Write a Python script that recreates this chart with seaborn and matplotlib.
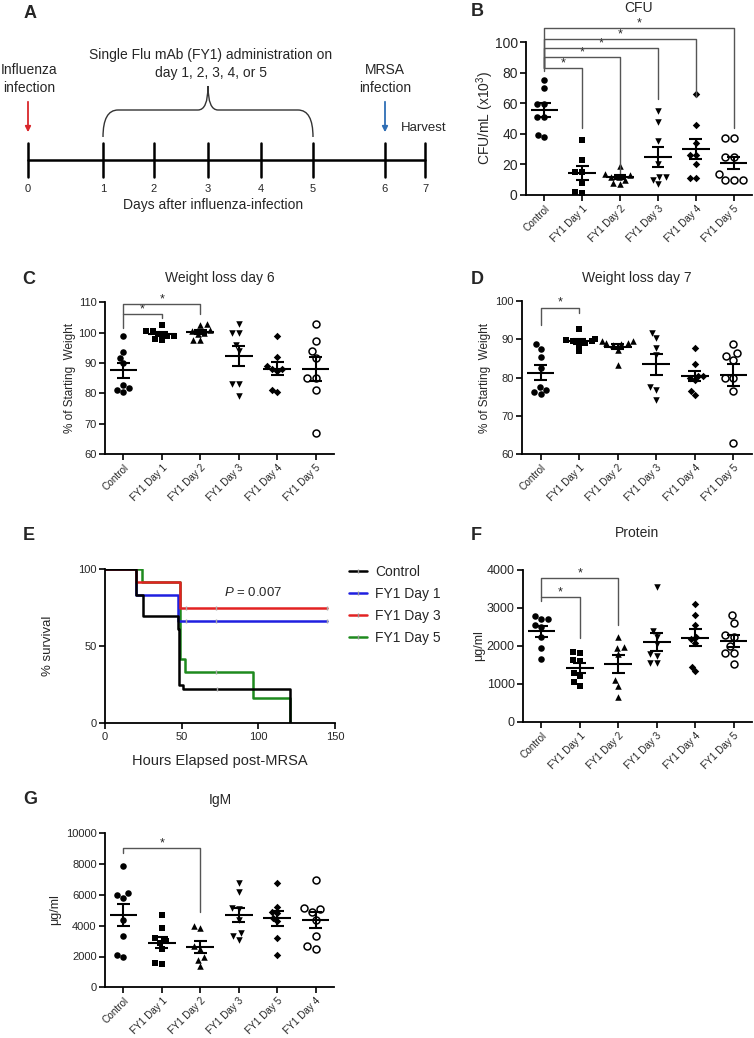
import warnings
warnings.filterwarnings("ignore")
import numpy as np
import matplotlib
matplotlib.use("Agg")
import matplotlib.pyplot as plt
import seaborn as sns
from matplotlib.path import Path
from matplotlib.patches import PathPatch
from matplotlib.lines import Line2D

# ---------------- data ----------------
cats = ["Control", "FY1 Day 1", "FY1 Day 2", "FY1 Day 3", "FY1 Day 4", "FY1 Day 5"]
g_cats = ["Control", "FY1 Day 1", "FY1 Day 2", "FY1 Day 3", "FY1 Day 5", "FY1 Day 4"]

cfu_control = [75, 70, 59.5, 59.5, 51, 51, 38, 39]
cfu_day1 = [36, 23, 15, 15, 8, 1, 2]
cfu_day2 = [19, 14, 13, 12, 12, 10, 8, 7]
cfu_day3 = [55, 48, 35, 20, 12, 12, 10, 7]
cfu_day4 = [66, 46, 34, 26, 26, 20, 11, 11]
cfu_day5 = [37, 37, 25, 25, 14, 10, 10, 10]

wl6_control = [99, 93.7, 91.8, 90, 82.7, 80.5, 81.6, 81]
wl6_day1 = [102.5, 100.5, 100.5, 99.5, 99, 99, 97.5, 97.8]
wl6_day2 = [102.5, 103, 101, 100.5, 100, 99.5, 97.5, 97.5]
wl6_day3 = [103, 100, 100, 96, 94, 83, 83, 79]
wl6_day4 = [99, 92, 89, 88, 88, 87.5, 80.5, 81]
wl6_day5 = [102.7, 97.3, 94, 91.5, 85, 85, 81, 67]

wl7_control = [87.5, 88.7, 85.3, 82.4, 77.5, 75.7, 76.8, 76.2]
wl7_day1 = [92.8, 90, 89.5, 89.5, 89, 89.7, 88.5, 86.8]
wl7_day2 = [89.5, 89.5, 89, 89, 88.8, 88.5, 87.3, 83.2]
wl7_day3 = [90.3, 91.6, 87.6, 85.9, 76.8, 77.6, 74.2]
wl7_day4 = [87.6, 83.6, 80.5, 80.5, 80, 79.3, 75.5, 76.5]
wl7_day5 = [88.8, 86.5, 85.5, 84.5, 80, 80, 76.5, 63]

prot_control = [2780, 2720, 2700, 2550, 2500, 2230, 1950, 1670]
prot_day1 = [1850, 1820, 1620, 1600, 1300, 1200, 1050, 950]
prot_day2 = [2250, 1980, 1960, 1790, 1100, 950, 650]
prot_day3 = [3540, 2400, 2250, 2050, 1800, 1750, 1550, 1550]
prot_day4 = [3100, 2820, 2550, 2230, 2180, 2090, 1460, 1350]
prot_day5 = [2820, 2600, 2290, 2230, 2010, 1810, 1810, 1520]

igm_control = [7850, 6100, 6000, 5800, 4400, 3300, 2100, 2000]
igm_day1 = [4700, 3850, 3200, 3000, 2900, 2500, 1600, 1500]
igm_day2 = [4000, 3850, 2700, 2500, 2000, 1800, 1400]
igm_day3 = [6800, 6200, 5150, 5100, 4400, 3500, 3300, 3100]
igm_day5 = [6750, 5200, 4900, 4800, 4500, 4300, 3200, 2100]
igm_day4 = [6950, 5150, 5100, 4900, 4400, 3350, 2700, 2500]

# Kaplan-Meier (hours, % survival)
km_control_t = [0, 20.2, 24.5, 47.4, 48.4, 51, 120.5]
km_control_s = [100, 83.3, 69.4, 61.1, 25.0, 22.2, 0]
km_day1_t = [0, 20.2, 47.8, 144.5]
km_day1_s = [100, 83.3, 66.7, 66.7]
km_day3_t = [0, 20.2, 48.9, 144.5]
km_day3_s = [100, 91.7, 75.0, 75.0]
km_day5_t = [0, 24.3, 48.9, 52, 96.7, 120.5]
km_day5_s = [100, 91.7, 41.7, 33.3, 16.7, 0]
cens_control = [72.8]
cens_day1 = [52.6, 72.6, 144.5]
cens_day3 = [52.6, 72.6, 144.5]
cens_day5 = [72.6]

# significance brackets: (group i, group j, bar level, left end, right end)
br_cfu = [(0, 1, 83, 81, 44), (0, 2, 90, 83, 14), (0, 3, 96, 83, 63),
          (0, 4, 102, 83, 64), (0, 5, 109, 83, 44)]
br_wl6 = [(0, 1, 106, 101.5, 104.7), (0, 2, 109.3, 106, 106.1)]
br_wl7 = [(0, 1, 98.3, 93.7, 96.9)]
br_prot = [(0, 1, 3280, 3190, 2200), (0, 2, 3780, 3280, 2550)]
br_igm = [(0, 2, 9026, 8700, 4910)]

timeline_days = ["0", "1", "2", "3", "4", "5", "6", "7"]

# ---------------- style ----------------
sns.set_style("ticks")
plt.rcParams['font.family'] = ['Liberation Sans', 'DejaVu Sans']
plt.rcParams['mathtext.fontset'] = 'custom'
plt.rcParams['mathtext.rm'] = 'Liberation Sans'
plt.rcParams['mathtext.it'] = 'Liberation Sans:italic'

W, H = 754, 1038
fig = plt.figure(figsize=(W / 100, H / 100), dpi=100)
canvas = fig.add_axes([0, 0, 1, 1])
canvas.set_xlim(0, W)
canvas.set_ylim(H, 0)
canvas.axis('off')


def add_ax(l, t, r, b):
    ax = fig.add_axes([l / W, 1 - b / H, (r - l) / W, (b - t) / H])
    ax.patch.set_alpha(0)
    return ax


def style_ax(ax, ylabsize=8):
    for s in ['top', 'right']:
        ax.spines[s].set_visible(False)
    for s in ['left', 'bottom']:
        ax.spines[s].set_linewidth(1.3)
        ax.spines[s].set_color('black')
    ax.tick_params(direction='out', length=4, width=1.2, color='black', pad=2)
    ax.tick_params(axis='y', labelsize=ylabsize)


markers = ['o', 's', '^', 'v', 'D', 'o']


def dot_panel(ax, groups, labels, ylim, yticks, brackets, ylabsize=8):
    for i, vals in enumerate(groups):
        m = markers[i]
        is_open = (i == 5)
        sz = 3.8 if m == 'D' else (5.0 if is_open else 4.7)
        sns.swarmplot(x=[labels[i]] * len(vals), y=vals, order=labels, ax=ax,
                      marker=m, size=sz, color='white' if is_open else 'black',
                      edgecolor='black', linewidth=1.1 if is_open else 0,
                      warn_thresh=1, zorder=3)
        mean = np.mean(vals)
        sem = np.std(vals, ddof=1) / np.sqrt(len(vals))
        ax.hlines(mean, i - 0.36, i + 0.36, color='black', lw=1.5, zorder=5)
        ax.vlines(i, mean - sem, mean + sem, color='black', lw=1.5, zorder=5)
        ax.hlines([mean - sem, mean + sem], i - 0.17, i + 0.17, color='black', lw=1.5, zorder=5)
    for (i, j, yb, yl, yr) in brackets:
        ax.plot([i, i, j, j], [yl, yb, yb, yr], color='#555555', lw=1.0,
                clip_on=False, zorder=4)
        ax.annotate('*', xy=((i + j) / 2, yb), xytext=(0, 3.5), textcoords='offset points',
                    ha='center', va='center', fontsize=9, annotation_clip=False)
    ax.set_xlim(-0.48, 5.48)
    ax.set_ylim(*ylim)
    ax.set_yticks(yticks)
    ax.set_xticks(range(len(labels)))
    ax.set_xticklabels(labels, rotation=45, ha='right', rotation_mode='anchor', fontsize=7.2)
    ax.set_xlabel('')
    ax.set_ylabel('')
    style_ax(ax, ylabsize)


# ---------------- Panel A (diagram) ----------------
day_x = [28, 103, 154, 208, 261, 313, 385, 425]
line_y = 160
canvas.plot([day_x[0], day_x[-1]], [line_y, line_y], color='black', lw=1.8)
for xd, lab in zip(day_x, timeline_days):
    canvas.plot([xd, xd], [143, 177], color='black', lw=1.8)
    canvas.text(xd, 189, lab, ha='center', va='center', fontsize=8)
canvas.text(213, 205, "Days after influenza-infection", ha='center', va='center', fontsize=10)
canvas.text(29, 79, "Influenza\ninfection", ha='center', va='center', fontsize=10, linespacing=1.3)
canvas.text(385, 79, "MRSA\ninfection", ha='center', va='center', fontsize=10, linespacing=1.3)
canvas.text(401, 128, "Harvest", ha='left', va='center', fontsize=9.5)
canvas.text(211, 55, "Single Flu mAb (FY1) administration on", ha='center', va='center', fontsize=10)
canvas.text(211, 73, "day 1, 2, 3, 4, or 5", ha='center', va='center', fontsize=10)
canvas.annotate('', xy=(day_x[0], 135), xytext=(day_x[0], 99),
                arrowprops=dict(arrowstyle='-|>', color='#d9262b', lw=1.3, mutation_scale=8))
canvas.annotate('', xy=(day_x[6], 135), xytext=(day_x[6], 99),
                arrowprops=dict(arrowstyle='-|>', color='#2f6eb5', lw=1.3, mutation_scale=8))
bl, bc, br = day_x[1], day_x[3], day_x[5]
verts = [(bl, 137), (bl, 110), (bl + 15, 110), (bc - 10, 110), (bc, 110), (bc, 86),
         (bc, 110), (bc + 10, 110), (br - 15, 110), (br, 110), (br, 137)]
codes = [Path.MOVETO, Path.CURVE3, Path.CURVE3, Path.LINETO, Path.CURVE3, Path.CURVE3,
         Path.CURVE3, Path.CURVE3, Path.LINETO, Path.CURVE3, Path.CURVE3]
canvas.add_patch(PathPatch(Path(verts, codes), fill=False, color='#333333', lw=1.0))

# ---------------- Panel B ----------------
axB = add_ax(526, 42, 752, 195)
dot_panel(axB, [cfu_control, cfu_day1, cfu_day2, cfu_day3, cfu_day4, cfu_day5], cats,
          (0, 100), [0, 20, 40, 60, 80, 100], br_cfu, ylabsize=10)

# ---------------- Panel C ----------------
axC = add_ax(105, 302.3, 334, 454)
dot_panel(axC, [wl6_control, wl6_day1, wl6_day2, wl6_day3, wl6_day4, wl6_day5], cats,
          (60, 110), [60, 70, 80, 90, 100, 110], br_wl6)

# ---------------- Panel D ----------------
axD = add_ax(522, 301, 752, 454)
dot_panel(axD, [wl7_control, wl7_day1, wl7_day2, wl7_day3, wl7_day4, wl7_day5], cats,
          (60, 100), [60, 70, 80, 90, 100], br_wl7)

# ---------------- Panel E ----------------
axE = add_ax(105, 569.3, 335, 723.3)
km = [(km_day5_t, km_day5_s, cens_day5, '#1e8a1e', 'FY1 Day 5'),
      (km_day1_t, km_day1_s, cens_day1, '#1f1fe0', 'FY1 Day 1'),
      (km_day3_t, km_day3_s, cens_day3, '#e32222', 'FY1 Day 3'),
      (km_control_t, km_control_s, cens_control, 'black', 'Control')]
for t, s, cz, c, lab in km:
    sns.lineplot(x=t, y=s, drawstyle='steps-post', color=c, lw=1.8, ax=axE,
                 estimator=None, sort=False, legend=False)
    ta = np.array(t)
    sa = np.array(s)
    cy = [sa[np.searchsorted(ta, v, side='right') - 1] for v in cz]
    axE.plot(cz, cy, ls='none', marker='|', ms=3, mew=1, color='#aaaaaa', zorder=6)
axE.set_xlim(0, 150)
axE.set_ylim(0, 100)
axE.set_xticks([0, 50, 100, 150])
axE.set_yticks([0, 50, 100])
axE.tick_params(axis='x', labelsize=8)
axE.set_xlabel('')
axE.set_ylabel('')
style_ax(axE)
handles = [Line2D([], [], color=c, lw=1.8, marker='|', ms=3, mec='#999999')
           for c in ['black', '#1f1fe0', '#e32222', '#1e8a1e']]
fig.legend(handles, ['Control', 'FY1 Day 1', 'FY1 Day 3', 'FY1 Day 5'], loc='upper left',
           bbox_to_anchor=(349 / W, 1 - 565 / H), frameon=False, fontsize=10,
           handlelength=1.3, handletextpad=0.6, labelspacing=0.58, borderpad=0, borderaxespad=0)
canvas.text(253, 593, '$P$ = 0.007', ha='center', va='center', fontsize=9.5)

# ---------------- Panel F ----------------
axF = add_ax(523, 570, 752, 722)
dot_panel(axF, [prot_control, prot_day1, prot_day2, prot_day3, prot_day4, prot_day5], cats,
          (0, 4000), [0, 1000, 2000, 3000, 4000], br_prot, ylabsize=9)

# ---------------- Panel G ----------------
axG = add_ax(105, 833.3, 334, 987.3)
dot_panel(axG, [igm_control, igm_day1, igm_day2, igm_day3, igm_day5, igm_day4], g_cats,
          (0, 10000), [0, 2000, 4000, 6000, 8000, 10000], br_igm)

# ---------------- titles, labels, letters ----------------
canvas.text(639, 8, "CFU", ha='center', va='center', fontsize=10)
canvas.text(220, 278, "Weight loss day 6", ha='center', va='center', fontsize=10)
canvas.text(637, 278, "Weight loss day 7", ha='center', va='center', fontsize=10)
canvas.text(637, 533, "Protein", ha='center', va='center', fontsize=10)
canvas.text(220, 800, "IgM", ha='center', va='center', fontsize=10)

canvas.text(485, 118, "CFU/mL (x10$^3$)", rotation=90, ha='center', va='center', fontsize=10)
canvas.text(70, 378, "% of Starting  Weight", rotation=90, ha='center', va='center', fontsize=8.5)
canvas.text(485, 378, "% of Starting  Weight", rotation=90, ha='center', va='center', fontsize=8.5)
canvas.text(48, 646, "% survival", rotation=90, ha='center', va='center', fontsize=9.5)
canvas.text(220, 761, "Hours Elapsed post-MRSA", ha='center', va='center', fontsize=10.5)
canvas.text(479, 646, "μg/ml", rotation=90, ha='center', va='center', fontsize=9)
canvas.text(55, 910, "μg/ml", rotation=90, ha='center', va='center', fontsize=9)

for lab, x, y in [("A", 30, 13), ("B", 477, 12), ("C", 29, 279), ("D", 477, 279),
                  ("E", 29, 535), ("F", 476, 535), ("G", 30, 800)]:
    canvas.text(x, y, lab, ha='center', va='center', fontsize=13, fontweight='bold')

fig.savefig("out.png", dpi=100)
